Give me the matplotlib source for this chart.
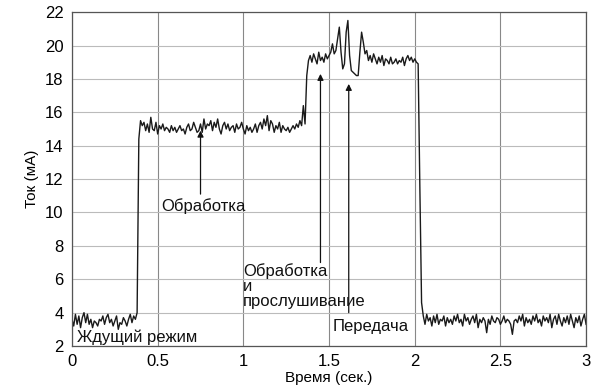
import numpy as np
import matplotlib.pyplot as plt

plt.rcParams['font.family'] = ['Liberation Sans', 'DejaVu Sans']

# current samples, one every 0.01 s, rows of 10 = 0.1 s
current = [
    3.6, 3.2, 3.9, 3.3, 3.8, 3.1, 3.7, 4.0, 3.4, 3.9,
    3.3, 3.6, 3.1, 3.5, 3.4, 3.2, 3.6, 3.5, 3.8, 3.3,
    3.7, 3.9, 3.4, 3.6, 3.2, 3.5, 3.8, 3.0, 3.4, 3.3,
    3.7, 3.5, 3.2, 3.6, 3.9, 3.4, 3.8, 3.6, 4.0, 14.4,
    15.5, 15.2, 15.4, 14.9, 15.3, 14.8, 15.7, 15.0, 14.9, 15.4,
    14.7, 15.2, 15.0, 15.3, 14.9, 15.1, 15.0, 14.8, 15.2, 14.9,
    15.1, 14.8, 15.0, 15.2, 14.9, 15.0, 14.7, 15.1, 15.3, 14.9,
    15.0, 15.4, 15.1, 14.8, 14.9, 15.3, 14.8, 15.6, 15.0, 15.3,
    15.2, 15.5, 14.9, 15.4, 15.1, 15.6, 15.0, 14.7, 15.2, 15.4,
    15.0, 15.3, 14.9, 15.1, 15.2, 14.8, 15.3, 15.0, 15.1, 15.4,
    15.0, 14.7, 15.2, 14.9, 15.1, 14.8, 15.0, 15.3, 14.8, 15.2,
    15.4, 15.0, 15.6, 15.2, 15.8, 14.9, 15.5, 15.3, 14.8, 15.2,
    15.0, 15.4, 14.8, 15.2, 15.0, 14.9, 15.1, 14.8, 15.0, 15.2,
    15.0, 15.3, 15.1, 15.5, 15.2, 16.4, 15.3, 18.2, 19.1, 19.4,
    19.0, 19.5, 19.2, 18.9, 19.6, 19.1, 19.3, 19.0, 19.5, 19.2,
    19.4, 19.6, 20.1, 19.5, 19.7, 20.4, 21.1, 19.6, 18.6, 18.9,
    20.8, 21.5, 19.4, 18.5, 18.4, 18.3, 18.2, 18.2, 19.6, 20.8,
    20.2, 19.5, 19.7, 19.1, 19.4, 19.0, 19.5, 19.2, 18.9, 19.3,
    19.0, 19.4, 18.8, 19.2, 19.1, 18.9, 19.3, 18.9, 19.0, 19.2,
    18.9, 19.1, 19.0, 19.3, 18.8, 19.2, 19.4, 19.1, 19.3, 19.0,
    19.2, 19.0, 18.9, 11.5, 4.6, 3.8, 3.3, 3.9, 3.5, 3.7,
    3.2, 3.8, 3.4, 3.9, 3.3, 3.6, 3.5, 3.8, 3.2, 3.7,
    3.4, 3.6, 3.3, 3.8, 3.5, 3.9, 3.4, 3.6, 3.2, 3.9,
    3.5, 3.7, 3.3, 3.6, 3.8, 3.4, 3.9, 3.1, 3.6, 3.4,
    3.7, 3.5, 2.8, 3.6, 3.3, 3.8, 3.5, 3.4, 3.7, 3.6,
    3.3, 3.5, 3.8, 3.4, 3.6, 3.5, 3.3, 2.7, 3.5, 3.6,
    3.4, 3.8, 3.5, 3.9, 3.2, 3.7, 3.4, 3.6, 3.3, 3.8,
    3.5, 3.9, 3.4, 3.6, 3.2, 3.8, 3.5, 3.7, 3.4, 3.9,
    3.1, 3.6, 3.8, 3.3, 3.9, 3.5, 3.2, 3.7, 3.4, 3.8,
    3.3, 3.9, 3.5, 3.1, 3.7, 3.4, 3.8, 3.2, 3.6, 3.9,
    3.3,
]
time = np.linspace(0, 3, len(current))

x_ticks = [0, 0.5, 1, 1.5, 2, 2.5, 3]
x_labels = ['0', '0.5', '1', '1.5', '2', '2.5', '3']
y_ticks = [2, 4, 6, 8, 10, 12, 14, 16, 18, 20, 22]

# (text, text position, arrow tip) ; tip None = plain label
labels = [
    ('Ждущий режим', (0.03, 2.5), None),
    ('Обработка', (0.52, 10.4), (0.75, 14.9)),
    ('Обработка\nи\nпрослушивание', (1.0, 5.6), (1.45, 18.3)),
    ('Передача', (1.52, 3.2), (1.615, 17.7)),
]
arrow_tails = {'Обработка': (0.75, 11.1),
               'Обработка\nи\nпрослушивание': (1.45, 7.0),
               'Передача': (1.615, 4.0)}

fig = plt.figure(figsize=(5.95, 3.91), dpi=100)
ax = fig.add_axes([0.121, 0.115, 0.864, 0.854])

ax.plot(time, current, color='#1a1a1a', lw=1.0)

for text, pos, tip in labels:
    ax.text(pos[0], pos[1], text, fontsize=12, va='center', ha='left',
            linespacing=1.0, color='#111111')
    if tip is not None:
        ax.annotate('', xy=tip, xytext=arrow_tails[text],
                    arrowprops=dict(arrowstyle='-|>', color='#111111',
                                    lw=0.9, mutation_scale=9,
                                    shrinkA=0, shrinkB=0))

ax.set_xlim(0, 3)
ax.set_ylim(2, 22)
ax.set_xticks(x_ticks)
ax.set_xticklabels(x_labels)
ax.set_yticks(y_ticks)
ax.tick_params(length=0, labelsize=12, pad=6)
ax.grid(axis='x', color='#888888', lw=0.8)
ax.grid(axis='y', color='#bbbbbb', lw=0.8)
ax.set_axisbelow(True)
for s in ax.spines.values():
    s.set_color('#555555')
    s.set_linewidth(0.9)

ax.set_xlabel('Время (сек.)', fontsize=11, labelpad=1)
ax.set_ylabel('Ток (мА)', fontsize=11, labelpad=4)

fig.savefig('out.png', dpi=100)
